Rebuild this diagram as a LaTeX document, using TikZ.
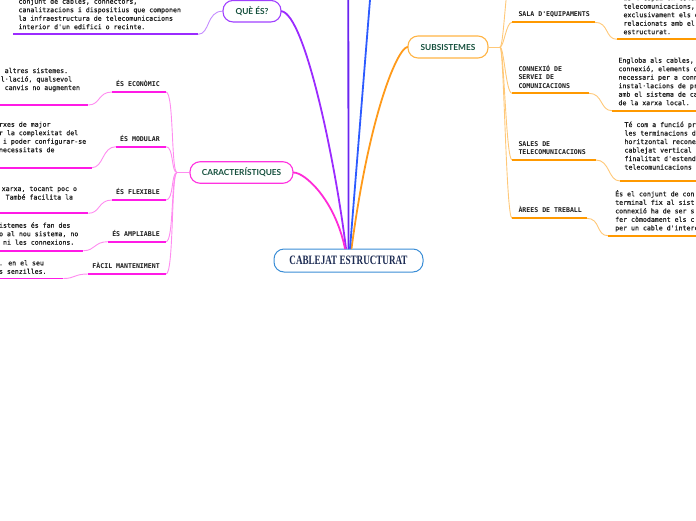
\documentclass[tikz,border=0pt]{standalone}
\usepackage{fontspec}
\usepackage{graphicx}
\newfontfamily\monofont{DejaVu Sans Mono}
\newfontfamily\leafmono{DejaVu Sans Mono}[FakeBold=0.6]
\newfontfamily\hubfont{Lato}
\newfontfamily\ctrfont{Liberation Serif}
\newcommand\leaffont{\leafmono\fontsize{6.58}{8.5}\selectfont}
\newcommand\labfont{\monofont\bfseries\fontsize{6.58}{8.5}\selectfont}
\newcommand\lfirst{\rule{0pt}{7pt}}
\newcommand\colsp{\hspace*{3.96pt}}
\definecolor{quecol}{HTML}{A040FF}
\definecolor{quemain}{HTML}{9B2BFF}
\definecolor{quelight}{HTML}{C48CFF}
\definecolor{indig}{HTML}{6A25F0}
\definecolor{bluel}{HTML}{2D5BFF}
\definecolor{carcol}{HTML}{FF33E0}
\definecolor{carmain}{HTML}{FF2BD8}
\definecolor{carul}{HTML}{FF1AE6}
\definecolor{carlight}{HTML}{FF8CF0}
\definecolor{subcol}{HTML}{FFB445}
\definecolor{submain}{HTML}{FF9A1A}
\definecolor{subul}{HTML}{FF9900}
\definecolor{sublight}{HTML}{FFC878}
\definecolor{ctrborder}{HTML}{3A8DD6}
\definecolor{ctrtext}{HTML}{1B2A52}
\definecolor{hubtext}{HTML}{15503D}
\definecolor{leafcol}{HTML}{1E1E1E}
\definecolor{labcol}{HTML}{1A1A1A}
\begin{document}
\begin{tikzpicture}[x=1pt,y=-1pt,
  leaf/.style={anchor=north west,inner sep=0pt,align=left,font=\leaffont,text=leafcol},
  lab/.style={inner sep=0pt,font=\labfont,text=labcol},
  mlab/.style={anchor=north west,inner sep=0pt,align=left,font=\labfont,text=labcol},
  hub/.style={draw,fill=white,rounded corners=10pt,line width=1.1pt,inner sep=0pt,
    font=\hubfont\bfseries\fontsize{8.3}{10}\selectfont,text=hubtext},
  mainline/.style={line width=1.8pt,line cap=round},
  thinline/.style={line width=0.9pt},
  ulline/.style={line width=1.8pt}]
\useasboundingbox (0,0) rectangle (696,520);
\clip (0,0) rectangle (696,520);

% ---------- main nodes ----------
\node[draw=ctrborder,fill=white,line width=1pt,rounded corners=10pt,minimum width=149pt,
  minimum height=23pt,inner sep=0pt,text=ctrtext] (C) at (348.5,260.5)
  {\ctrfont\bfseries\fontsize{12.8}{14}\selectfont\scalebox{0.71}[1]{CABLEJAT ESTRUCTURAT}};
\node[hub,draw=quecol,minimum width=58pt,minimum height=21.5pt] (Q) at (252,11.2) {QUÈ ÉS?};
\node[hub,draw=carcol,minimum width=103pt,minimum height=21.5pt] (K) at (241.5,172.5) {CARACTERÍSTIQUES};
\node[hub,draw=subcol,minimum width=80pt,minimum height=22pt] (S) at (448,47) {SUBSISTEMES};

% ---------- free ends above the frame ----------
\coordinate (topA) at (348.3,-20);
\coordinate (topB) at (371.6,-20);
\coordinate (topS) at (512,-30);

% ---------- main connectors ----------
\draw[mainline,quemain] (Q.east) .. controls (305,15) and (335,160) .. ([xshift=-2.5pt]C.north);
\draw[mainline,carmain] (K.east) .. controls (305,172.5) and (335,200) .. ([xshift=-3.5pt]C.north);
\draw[mainline,submain] (S.west) .. controls (398,48) and (370,110) .. ([xshift=3pt]C.north);
\draw[mainline,indig] (C.north) -- (topA);
\draw[mainline,bluel] ([xshift=1.5pt]C.north) -- (topB);

% ---------- QUÈ ÉS? ----------
\node[leaf] (qf) at (18.3,-3.5) {\lfirst conjunt de cables, connectors,\\canalitzacions i dispositius que componen\\la infraestructura de telecomunicacions\\interior d'un edifici o recinte.};
\coordinate (qfa) at (13,34.3);
\coordinate (qfb) at (198,34.3);
\draw[ulline,quemain] (qfa) -- (qfb);
\draw[thinline,quelight] (Q.west) .. controls +(-16,0) and +(12,0) .. (qfb);

% ---------- CARACTERÍSTIQUES ----------
\coordinate (J1) at (177,172.5);
\draw[thinline,carlight] (K.west) -- (J1);

% labels
\node[lab,anchor=base east] (e1) at (160,86.5) {ÉS ECONÒMIC};
\node[lab,anchor=base east] (e2) at (160,141.2) {ÉS MODULAR};
\node[lab,anchor=base east] (e3) at (160,194.5) {ÉS FLEXIBLE};
\node[lab,anchor=base east] (e4) at (160,236.2) {ÉS AMPLIABLE};
\node[lab,anchor=base east] (e5) at (160,268.5) {FÀCIL MANTENIMENT};

\coordinate (e1a) at (112,92);    \coordinate (e1b) at (166,92);
\coordinate (e2a) at (116,146.7); \coordinate (e2b) at (166,146.7);
\coordinate (e3a) at (112,200);   \coordinate (e3b) at (166,200);
\coordinate (e4a) at (108,241.7); \coordinate (e4b) at (166,241.7);
\coordinate (e5a) at (88,274);    \coordinate (e5b) at (166,274);

% leaves
\node[leaf] (e1f) at (0.54,65.8) {\lfirst\colsp altres sistemes.\\l·lació, qualsevol\\\colsp canvis no augmenten};
\node[leaf] (e2f) at (-1.2,119.5) {\lfirst rxes de major\\r la complexitat del\\\colsp i poder configurar-se\\necessitats de};
\node[leaf] (e3f) at (1.5,183.8) {\lfirst xarxa, tocant poc o\\\colsp També facilita la};
\node[leaf] (e4f) at (-1.1,220.5) {\lfirst istemes és fan des\\o al nou sistema, no\\\colsp ni les connexions.};
\node[leaf] (e5f) at (-1.2,258.1) {\lfirst . en el seu\\s senzilles.};

\coordinate (e1fa) at (-5,105);    \coordinate (e1fb) at (88.3,105);
\coordinate (e2fa) at (-5,167.7);  \coordinate (e2fb) at (91.7,167.7);
\coordinate (e3fa) at (-5,213.3);  \coordinate (e3fb) at (88.3,213.3);
\coordinate (e4fa) at (-5,250.7);  \coordinate (e4fb) at (83.3,250.7);
\coordinate (e5fa) at (-5,278.5);  \coordinate (e5fb) at (63.3,278.5);

\foreach \i in {1,...,5}{
  \draw[thinline,carlight] (J1) .. controls +(-6,0) and +(8,0) .. (e\i b);
  \draw[thinline,carlight] (e\i a) .. controls +(-14,0) and +(12,0) .. (e\i fb);
  \draw[ulline,carul] (e\i a) -- (e\i b);
  \draw[ulline,carul] (e\i fa) -- (e\i fb);
}

% ---------- SUBSISTEMES ----------
\coordinate (J2) at (500,47);
\draw[thinline,sublight] (S.east) -- (J2);
\draw[thinline,sublight] (J2) .. controls +(4,0) and +(-6,0) .. (topS);

\node[lab,anchor=base west] (s1) at (518.3,16.9) {SALA D'EQUIPAMENTS};
\node[mlab] (s2) at (518.3,64) {\lfirst CONNEXIÓ DE\\SERVEI DE\\COMUNICACIONS};
\node[mlab] (s3) at (518.3,139) {\lfirst SALES DE\\TELECOMUNICACIONS};
\node[lab,anchor=base west] (s4) at (518.3,212.8) {ÀREES DE TREBALL};

\coordinate (s1a) at (512,22.3);  \coordinate (s1b) at (595,22.3);
\coordinate (s2a) at (512,93.3);  \coordinate (s2b) at (589,93.3);
\coordinate (s3a) at (512,160);   \coordinate (s3b) at (596,160);
\coordinate (s4a) at (512,218.3); \coordinate (s4b) at (586.7,218.3);

\node[leaf] (s1f) at (623.3,-7) {\lfirst És l'espai on estan\\telecomunicacions,\\exclusivament els e\\relacionats amb el\\estructurat.};
\node[leaf] (s2f) at (618.3,55.5) {\lfirst Engloba als cables,\\connexió, elements d\\necessari per a conn\\instal·lacions de pr\\amb el sistema de ca\\de la xarxa local.};
\node[leaf] (s3f) at (624.3,119.8) {\lfirst Té com a funció pr\\les terminacions d\\horitzontal recone\\cablejat vertical\\finalitat d'estend\\telecomunicacions};
\node[leaf] (s4f) at (615,189.1) {\lfirst És el conjunt de con\\terminal fix al sist\\connexió ha de ser s\\fer còmodament els c\\per un cable d'interc};

\coordinate (s1fa) at (617,39.3);   \coordinate (s1fb) at (700,39.3);
\coordinate (s2fa) at (612,110.7);  \coordinate (s2fb) at (700,110.7);
\coordinate (s3fa) at (620,181);    \coordinate (s3fb) at (700,181);
\coordinate (s4fa) at (608,235.7);  \coordinate (s4fb) at (700,235.7);

\foreach \i in {1,...,4}{
  \draw[thinline,sublight] (J2) .. controls +(4,0) and +(-6,0) .. (s\i a);
  \draw[thinline,sublight] (s\i b) .. controls +(14,0) and +(-12,0) .. (s\i fa);
  \draw[ulline,subul] (s\i a) -- (s\i b);
  \draw[ulline,subul] (s\i fa) -- (s\i fb);
}
\end{tikzpicture}
\end{document}
